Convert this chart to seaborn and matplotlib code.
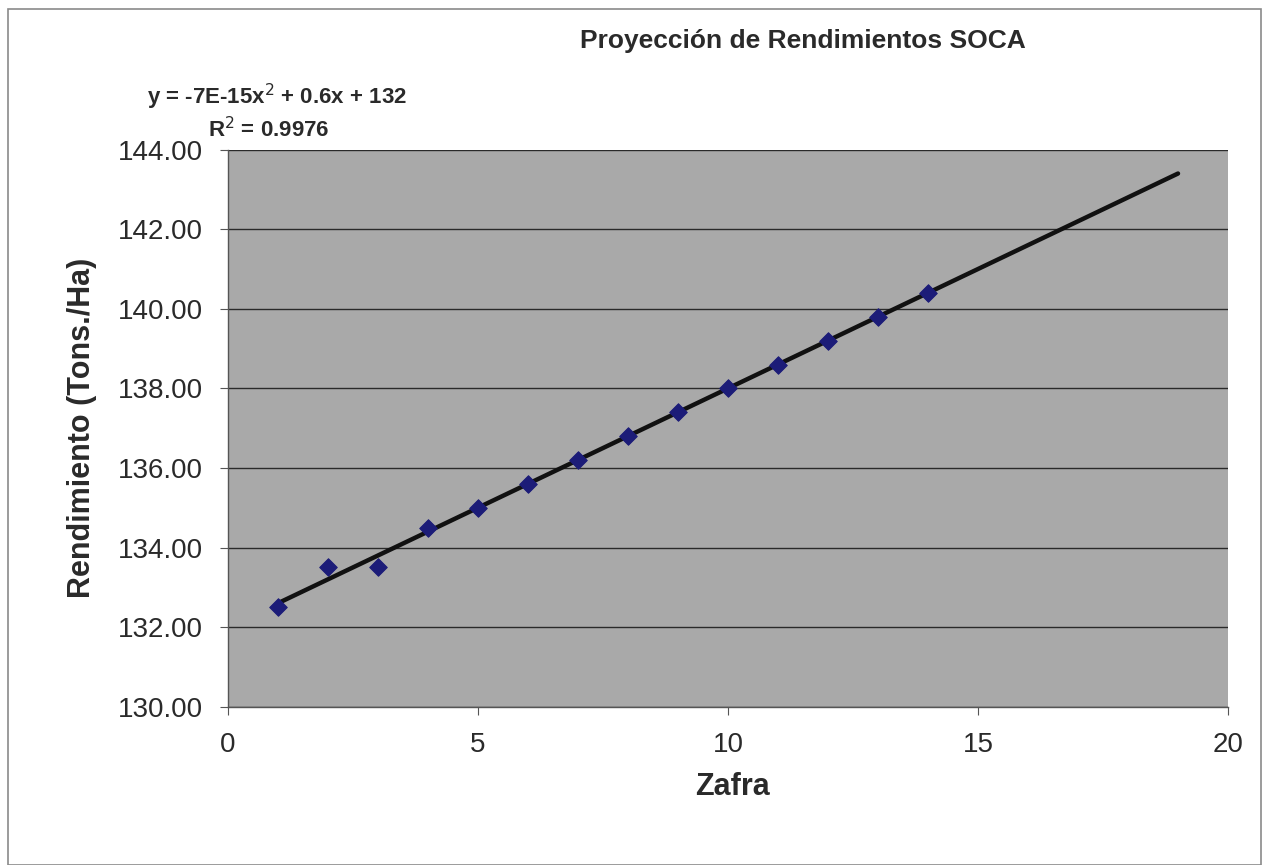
import matplotlib.pyplot as plt
import numpy as np
import pandas as pd
import seaborn as sns
from matplotlib.patches import Rectangle

# Data
zafra = [1, 2, 3, 4, 5, 6, 7, 8, 9, 10, 11, 12, 13, 14]
rendimiento = [132.5, 133.5, 133.5, 134.5, 135.0, 135.6, 136.2, 136.8,
               137.4, 138.0, 138.6, 139.2, 139.8, 140.4]
trend_range = [1, 19]
y_ticks = [130, 132, 134, 136, 138, 140, 142, 144]
x_ticks = [0, 5, 10, 15, 20]

df = pd.DataFrame({'Zafra': zafra, 'Rendimiento': rendimiento})

sns.set_style('white')
plt.rcParams['font.family'] = ['Liberation Sans', 'DejaVu Sans']

fig = plt.figure(figsize=(12.66, 8.65), dpi=100)
ax = fig.add_axes([0.180, 0.183, 0.790, 0.644])

# outer chart border
fig.patches.append(Rectangle((0.006, 0.0), 0.99, 0.99, transform=fig.transFigure,
                             fill=False, edgecolor='#8a8a8a', linewidth=1.2))

ax.set_facecolor('#a9a9a9')

# polynomial trend line (2nd order, as in the sheet)
coef = np.polyfit(df['Zafra'], df['Rendimiento'], 2)
xt = np.linspace(trend_range[0], trend_range[1], 50)
ax.plot(xt, np.polyval(coef, xt), color='#111111', linewidth=3.2, zorder=3,
        solid_capstyle='round')

sns.scatterplot(data=df, x='Zafra', y='Rendimiento', ax=ax, marker='D', s=80,
                color='#1c1c78', edgecolor='#1c1c78', zorder=4)

ax.set_xlim(0, 20)
ax.set_ylim(130, 144)
ax.set_xticks(x_ticks)
ax.set_yticks(y_ticks)
ax.set_yticklabels([f'{v:.2f}' for v in y_ticks])
ax.yaxis.grid(True, color='#2a2a2a', linewidth=1)
ax.set_axisbelow(True)

for side in ['top', 'right']:
    ax.spines[side].set_visible(False)
for side in ['left', 'bottom']:
    ax.spines[side].set_color('#555555')
    ax.spines[side].set_linewidth(1)

ax.tick_params(axis='both', labelsize=20, labelcolor='#2a2a2a', direction='out',
               length=6, color='#555555', left=True, bottom=True)
ax.tick_params(axis='x', pad=12)
ax.tick_params(axis='y', pad=12)

ax.set_xlabel('Zafra', fontsize=22, fontweight='bold', color='#2a2a2a')
ax.set_ylabel('Rendimiento (Tons./Ha)', fontsize=22, fontweight='bold', color='#2a2a2a')
ax.xaxis.label.set_va('center')
ax.yaxis.label.set_va('center')
ax.xaxis.set_label_coords(0.505, -0.144)
ax.yaxis.set_label_coords(-0.146, 0.5)

fig.text(0.634, 0.953, 'Proyección de Rendimientos SOCA', ha='center', va='center',
         fontsize=19, fontweight='bold', color='#2a2a2a')
fig.text(0.116, 0.888, r'y = -7E-15x$^2$ + 0.6x + 132', ha='left', va='center',
         fontsize=16, fontweight='bold', color='#2a2a2a')
fig.text(0.164, 0.850, r'R$^2$ = 0.9976', ha='left', va='center',
         fontsize=16, fontweight='bold', color='#2a2a2a')

fig.savefig('out.png', dpi=100)
